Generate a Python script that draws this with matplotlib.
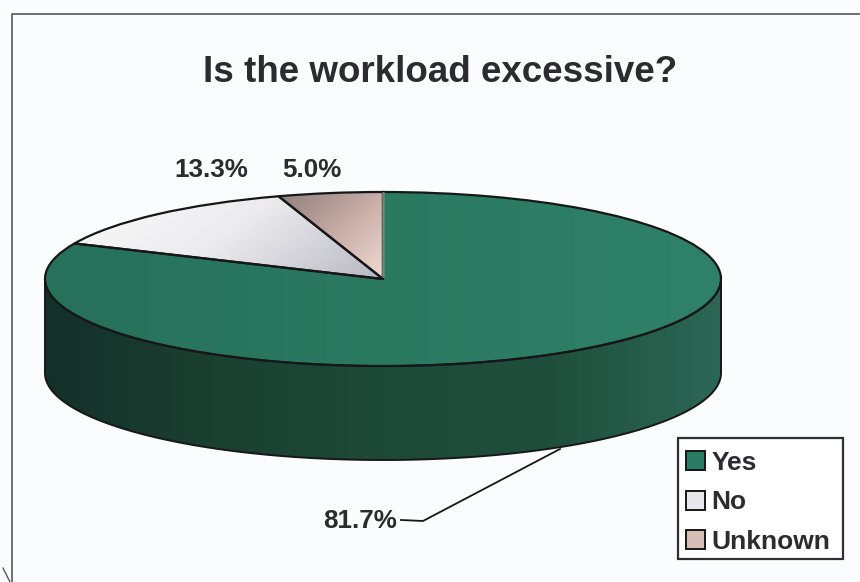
"""Pie 3D de la carga de trabajo, dibujado con un pie de matplotlib aplastado."""

import numpy as np
import matplotlib
matplotlib.use("Agg")
import matplotlib.pyplot as plt
from matplotlib.colors import LinearSegmentedColormap
from matplotlib.patches import Polygon, Patch, Rectangle

categories = ["Yes", "No", "Unknown"]
percent = [81.7, 13.3, 5.0]
title = "Is the workload excessive?"

WIDTH, HEIGHT = 860, 582
CX, CY, RX, RY = 383, 279, 338, 87
DEPTH = 94 / RY
INK = "#2b2b30"
EDGE = "#17171a"
BG = "#fbfcfd"

plt.rcParams["font.family"] = ["Liberation Sans", "DejaVu Sans"]
plt.rcParams["font.weight"] = "bold"


def gradient(ax, patch, colors, angle, extent):
    """Rellena ``patch`` con un degradado lineal recortado a su forma."""
    cmap = LinearSegmentedColormap.from_list("g", colors)
    xx, yy = np.meshgrid(np.linspace(0, 1, 300), np.linspace(1, 0, 200))
    t = np.cos(angle) * xx + np.sin(angle) * yy
    t = (t - t.min()) / (t.max() - t.min())
    img = ax.imshow(t, cmap=cmap, extent=extent, aspect="auto", zorder=2,
                    interpolation="bilinear")
    img.set_clip_path(patch)


fig = plt.figure(figsize=(WIDTH / 100, HEIGHT / 100), dpi=100, facecolor=BG)

# pie en unidades del radio: x e y se escalan por separado para aplastarlo
pie_ax = fig.add_axes([0, 0, 1, 1])
wedges, _ = pie_ax.pie(percent, startangle=90, counterclock=False, radius=1,
                       colors=["#2a7c62", "#e6e6ea", "#c9b0aa"],
                       wedgeprops=dict(linewidth=0), center=(0, 0))
for w in wedges:
    w.set_zorder(1)

gradient(pie_ax, wedges[0], ["#27705a", "#2a7a60", "#2f8169"], 0.0, (-1, 1, -1, 1))
gradient(pie_ax, wedges[1], ["#fbfbfb", "#ececee", "#b9b8c4"], -0.35,
         (-0.95, 0, 0, 1))
gradient(pie_ax, wedges[2], ["#8f7d7c", "#c4aaa4", "#f0dcd2"], -0.7,
         (-0.32, 0, 0, 1))

# lateral visible: mitad delantera de la elipse
t = np.linspace(np.pi, 2 * np.pi, 240)
side_xy = np.r_[np.c_[np.cos(t), np.sin(t)],
                np.c_[np.cos(t[::-1]), np.sin(t[::-1]) - DEPTH]]
side = Polygon(side_xy, closed=True, facecolor="#1f4a37", edgecolor="none", zorder=1)
pie_ax.add_patch(side)
gradient(pie_ax, side, ["#14302a", "#1a4030", "#1d4a36", "#1f4f3c", "#2c6756"], 0.0,
         (-1, 1, -1 - DEPTH, 0))
pie_ax.add_patch(Polygon(side_xy, closed=True, fill=False, edgecolor=EDGE,
                         linewidth=1.4, zorder=3))

outlines, _ = pie_ax.pie(percent, startangle=90, counterclock=False, radius=1,
                         wedgeprops=dict(fill=False, edgecolor=EDGE, linewidth=1.6))
for w in outlines:
    w.set_zorder(4)
# el borde vertical entre Unknown y Yes casi no se ve en el original
pie_ax.plot([0, 0], [0.03, 0.985], color="#6f8a7c", linewidth=1.8, zorder=5)

pie_ax.set_aspect("auto")
pie_ax.set_xlim(-CX / RX, (WIDTH - CX) / RX)
pie_ax.set_ylim((CY - HEIGHT) / RY, CY / RY)

# capa de textos y marco en pixeles de la imagen
ax = fig.add_axes([0, 0, 1, 1], facecolor="none")
ax.set_xlim(0, WIDTH)
ax.set_ylim(HEIGHT, 0)
ax.axis("off")

ax.text(203, 72, title, ha="left", va="center", fontsize=26.5, color=INK)
ax.text(211, 170, f"{percent[1]:.1f}%", ha="center", va="center", fontsize=18.7, color=INK)
ax.text(312, 170, f"{percent[2]:.1f}%", ha="center", va="center", fontsize=18.7, color=INK)
ax.text(360, 521, f"{percent[0]:.1f}%", ha="center", va="center", fontsize=18.7, color=INK)
ax.plot([401, 423, 560], [520, 521, 449], color=EDGE, linewidth=1.3)

# marco del grafico, cortado por el escaneo
ax.plot([12, 12, 860], [582, 14, 14], color="#4a4a50", linewidth=1.1)
ax.plot([3, 10], [568, 582], color="#4a4a50", linewidth=0.9)

# caja de la leyenda aparte: sus margenes no son iguales en el original
ax.add_patch(Rectangle((678, 438), 165, 121, facecolor="white",
                       edgecolor="#2f2f35", linewidth=1.6, zorder=5))
handles = [Patch(facecolor=c, edgecolor=EDGE, linewidth=1.4, label=n)
           for c, n in zip(["#2a7c62", "#e8e8ec", "#d6bdb6"], categories)]
leg = ax.legend(handles=handles, loc="upper left",
                bbox_to_anchor=(678 / WIDTH, 1 - 443 / HEIGHT),
                bbox_transform=fig.transFigure, fontsize=19, frameon=False,
                borderaxespad=0, borderpad=0.3, handlelength=0.72,
                handleheight=0.72, handletextpad=0.25, labelspacing=0.59)
leg.set_zorder(6)
for txt in leg.get_texts():
    txt.set_color(INK)

fig.savefig("out.png", dpi=100, facecolor=BG)
